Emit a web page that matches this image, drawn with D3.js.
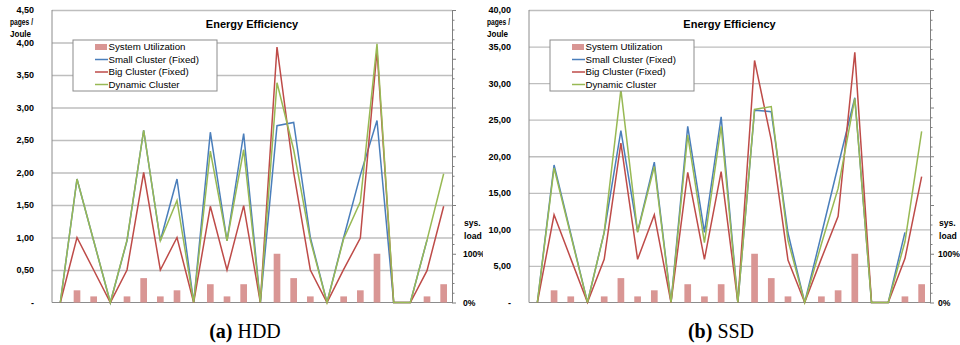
<!DOCTYPE html>
<html><head><meta charset="utf-8">
<script src="https://cdn.jsdelivr.net/npm/d3@7"></script>
<style>body{margin:0;background:#fff}svg{display:block}text{font-family:"Liberation Sans",Arial,sans-serif}</style>
</head><body><svg id="c" width="960" height="345"></svg>
<script>
// ---- data ----
const categories = ["1","2","3","4","5","6","7","8","9","10","11","12","13","14","15","16","17","18","19","20","21","22","23","24"];
const sysLoad = [0,25,12.5,0,12.5,50,12.5,25,0,37.5,12.5,37.5,0,100,50,12.5,0,12.5,25,100,0,0,12.5,37.5];
const hddSmall = [0,1.90,0.95,0,0.95,2.65,0.95,1.90,0,2.62,0.95,2.60,0,2.72,2.77,1.00,0,1.00,1.96,2.80,0,0,0.96,null];
const hddBig = [0,1.00,0.50,0,0.50,2.00,0.50,1.00,0,1.48,0.50,1.49,0,3.93,2.00,0.50,0,0.51,0.99,3.88,0,0,0.49,1.48];
const hddDynamic = [0,1.90,0.95,0,0.96,2.65,0.95,1.57,0,2.33,0.95,2.35,0,3.38,2.35,0.96,0,0.98,1.55,3.98,0,0,0.96,1.98];
const ssdSmall = [0,18.8,9.4,0,9.6,23.5,9.7,19.2,0,24.1,9.6,25.4,0,26.3,26.1,9.5,0,9.3,18.7,28.0,0,0,9.6,null];
const ssdBig = [0,12.0,6.0,0,5.9,21.8,5.9,12.0,0,17.8,5.9,17.9,0,33.1,22.2,5.8,0,6.0,11.8,34.2,0,0,6.0,17.2];
const ssdDynamic = [0,18.4,9.2,0,9.6,29.1,9.6,18.6,0,22.9,8.2,24.1,0,26.4,26.8,8.5,0,8.0,15.6,27.9,0,0,8.3,23.4];
const hddTicks = [0,0.5,1,1.5,2,2.5,3,3.5,4,4.5];
const ssdTicks = [0,5,10,15,20,25,30,35,40];
const loadTicks = [0,20,40,60,80,100,120,140,160,180,200,220,240,260,280,300,320,340,360,380,400,420,440,460,480,500,520,540,560,580,600];
const loadLabels = [0,100];
const seriesNames = ["System Utilization","Small Cluster (Fixed)","Big Cluster (Fixed)","Dynamic Cluster"];
const colors = {bar:"#D99694", small:"#4A7EBB", big:"#BE4B48", dyn:"#98B954"};

const locale = d3.formatLocale({decimal:",", thousands:".", grouping:[3], currency:["",""]});
const fmt2 = locale.format(".2f");
const svg = d3.select("#c");

function drawChart(cfg, small, big, dyn, ticks, caption, capLetter) {
  const clipId = "clip" + cfg.id;
  svg.append("clipPath").attr("id", clipId).append("rect")
    .attr("x", cfg.clipX0).attr("y", 0).attr("width", cfg.clipX1 - cfg.clipX0).attr("height", 345);
  const g = svg.append("g").attr("clip-path", `url(#${clipId})`);
  const x = d3.scalePoint().domain(categories).range([cfg.x0, cfg.x1]).padding(0.5);
  const xb = d3.scaleBand().domain(categories).range([cfg.x0, cfg.x1]).paddingInner(0.6).paddingOuter(0.3);
  const y = d3.scaleLinear().domain([0, ticks[ticks.length-1]]).range([cfg.yB, cfg.yT]);
  const y2 = d3.scaleLinear().domain([0, 600]).range([cfg.yB, cfg.yT]);

  // gridlines
  const grid = g.append("g").attr("transform", `translate(${cfg.x0},0)`)
    .call(d3.axisLeft(y).tickValues(ticks.filter(t => t > 0)).tickSize(-(cfg.x1 - cfg.x0)).tickFormat(""));
  grid.select(".domain").remove();
  grid.selectAll("line").attr("stroke", "#BEBEBE").attr("stroke-width", 1.3);

  // left labels
  const yl = g.append("g").attr("transform", `translate(${cfg.x0},0)`)
    .call(d3.axisLeft(y).tickValues(ticks).tickSize(0).tickPadding(18).tickFormat(d => d === 0 ? "-" : fmt2(d)));
  yl.select(".domain").remove();
  yl.selectAll("text").attr("font-size", 9).attr("font-weight", "bold").attr("fill", "#000")
    .attr("font-family", '"Liberation Sans",Arial,sans-serif');

  g.append("text").attr("x", cfg.x0 - 42).attr("y", cfg.yT + 15).text("pages /")
    .attr("font-size", 9).attr("font-weight", "bold").attr("textLength", 23).attr("lengthAdjust", "spacingAndGlyphs");
  g.append("text").attr("x", cfg.x0 - 42).attr("y", cfg.yT + 27).text("Joule")
    .attr("font-size", 8.5).attr("font-weight", "bold").attr("textLength", 21).attr("lengthAdjust", "spacingAndGlyphs");

  // axes lines
  g.append("line").attr("x1", cfg.x0).attr("x2", cfg.x0).attr("y1", cfg.yT).attr("y2", cfg.yB)
    .attr("stroke", "#8C8C8C").attr("stroke-width", 1);
  g.append("line").attr("x1", cfg.x0).attr("x2", cfg.x1).attr("y1", cfg.yB).attr("y2", cfg.yB)
    .attr("stroke", "#8C8C8C").attr("stroke-width", 1);

  // right axis
  const ya = g.append("g").attr("transform", `translate(${cfg.x1},0)`)
    .call(d3.axisRight(y2).tickValues(loadTicks).tickSizeInner(3).tickSizeOuter(0).tickFormat(""));
  ya.select(".domain").attr("stroke", "#7F7F7F");
  ya.selectAll(".tick line").attr("stroke", "#7F7F7F").attr("x2", d => d % 100 === 0 ? 4 : 2.5);
  g.selectAll(".loadlbl").data(loadLabels).join("text")
    .attr("x", cfg.x1 + cfg.lblOff).attr("y", d => y2(d) + 3.3)
    .text(d => d + "%").attr("font-size", 8.6).attr("font-weight", "bold");
  g.append("text").attr("x", cfg.x1 + cfg.lblOff + 1).attr("y", y2(100) - 28).text("sys.")
    .attr("font-size", 8.6).attr("font-weight", "bold");
  g.append("text").attr("x", cfg.x1 + cfg.lblOff + 1).attr("y", y2(100) - 15).text("load")
    .attr("font-size", 8.6).attr("font-weight", "bold");

  // bars
  g.selectAll(".bar").data(sysLoad.map((v, i) => ({c: categories[i], v}))).join("rect")
    .attr("x", d => xb(d.c)).attr("width", xb.bandwidth())
    .attr("y", d => y2(d.v)).attr("height", d => y2(0) - y2(d.v))
    .attr("fill", colors.bar);

  // lines
  const line = d3.line().defined(d => d.v !== null).x(d => x(d.c)).y(d => y(d.v));
  [[small, colors.small], [big, colors.big], [dyn, colors.dyn]].forEach(([arr, col]) => {
    g.append("path").datum(arr.map((v, i) => ({c: categories[i], v})))
      .attr("d", line).attr("fill", "none").attr("stroke", col).attr("stroke-width", 1.5)
      .attr("stroke-linejoin", "miter");
  });

  // title
  g.append("text").attr("x", (cfg.x0 + cfg.x1) / 2).attr("y", cfg.yT + 17.5).attr("text-anchor", "middle")
    .text("Energy Efficiency").attr("font-size", 11).attr("font-weight", "bold");

  // legend
  const lx = cfg.x0 + 21, ly = cfg.yT + 30;
  g.append("rect").attr("x", lx).attr("y", ly).attr("width", 144).attr("height", 51)
    .attr("fill", "#fff").attr("stroke", "#8C8C8C").attr("stroke-width", 1);
  seriesNames.forEach((name, i) => {
    const cy = ly + 7 + i * 12.5;
    if (i === 0) {
      g.append("rect").attr("x", lx + 22).attr("y", cy - 3).attr("width", 12).attr("height", 6).attr("fill", colors.bar);
    } else {
      g.append("line").attr("x1", lx + 22).attr("x2", lx + 35).attr("y1", cy).attr("y2", cy)
        .attr("stroke", [null, colors.small, colors.big, colors.dyn][i]).attr("stroke-width", 1.5);
    }
    g.append("text").attr("x", lx + 35.5).attr("y", cy + 3.4).text(name).attr("font-size", 9.7).attr("fill", "#000");
  });

  // caption
  const cap = svg.append("text").attr("x", cfg.capX).attr("y", 338).attr("text-anchor", "middle")
    .attr("font-size", 20).style("font-family", '"Liberation Serif","Times New Roman",serif');
  cap.append("tspan").attr("font-weight", "bold").text(capLetter);
  cap.append("tspan").text(" " + caption);
}

drawChart({id:"a", x0:52, x1:452, yT:10, yB:302.5, clipX0:0, clipX1:483, lblOff:11, capX:245},
  hddSmall, hddBig, hddDynamic, hddTicks, "HDD", "(a)");
drawChart({id:"b", x0:529, x1:930, yT:10, yB:302.5, clipX0:483, clipX1:960, lblOff:8, capX:721},
  ssdSmall, ssdBig, ssdDynamic, ssdTicks, "SSD", "(b)");
</script></body></html>
